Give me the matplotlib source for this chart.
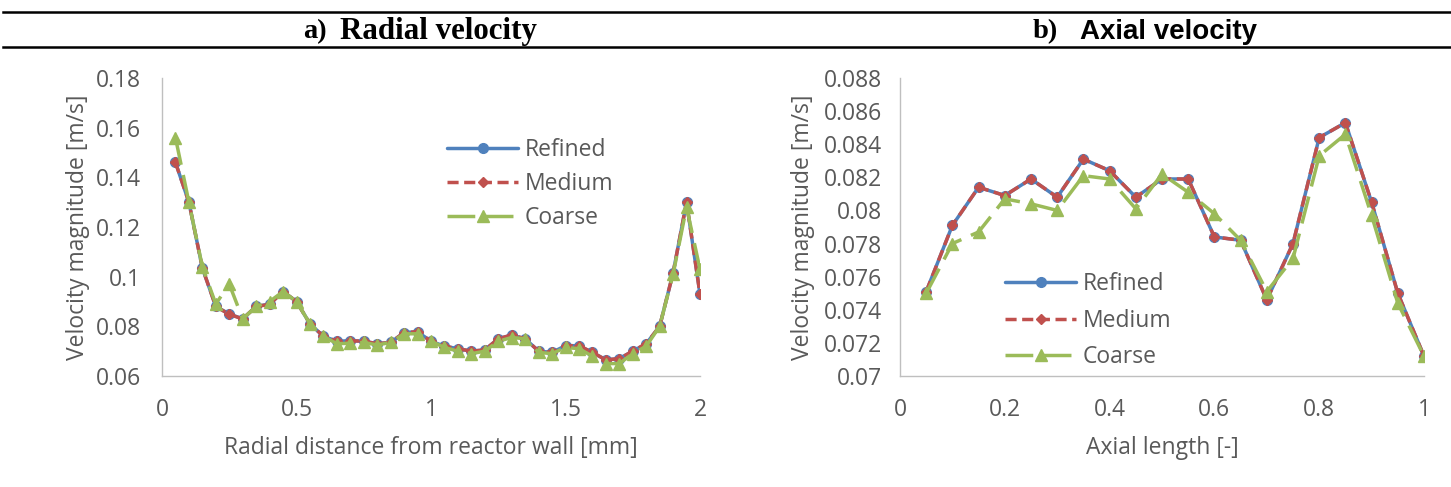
import matplotlib
matplotlib.use("Agg")
import matplotlib.pyplot as plt
from matplotlib.lines import Line2D
import numpy as np

# ---------------- data ----------------
radial_x = [0.05, 0.10, 0.15, 0.20, 0.25, 0.30, 0.35, 0.40, 0.45, 0.50,
            0.55, 0.60, 0.65, 0.70, 0.75, 0.80, 0.85, 0.90, 0.95, 1.00,
            1.05, 1.10, 1.15, 1.20, 1.25, 1.30, 1.35, 1.40, 1.45, 1.50,
            1.55, 1.60, 1.65, 1.70, 1.75, 1.80, 1.85, 1.90, 1.95, 2.00]
radial_refined = [0.1460, 0.1300, 0.1035, 0.0880, 0.0850, 0.0830, 0.0880, 0.0890, 0.0940, 0.0900,
                  0.0810, 0.0760, 0.0740, 0.0742, 0.0740, 0.0730, 0.0735, 0.0775, 0.0778, 0.0740,
                  0.0720, 0.0710, 0.0700, 0.0705, 0.0750, 0.0765, 0.0750, 0.0700, 0.0695, 0.0722,
                  0.0722, 0.0695, 0.0665, 0.0670, 0.0700, 0.0730, 0.0800, 0.1015, 0.1300, 0.0930]
radial_medium = [0.1460, 0.1300, 0.1035, 0.0880, 0.0848, 0.0830, 0.0880, 0.0888, 0.0940, 0.0900,
                 0.0810, 0.0760, 0.0740, 0.0742, 0.0740, 0.0730, 0.0735, 0.0775, 0.0778, 0.0740,
                 0.0720, 0.0710, 0.0700, 0.0705, 0.0750, 0.0765, 0.0750, 0.0700, 0.0695, 0.0722,
                 0.0722, 0.0695, 0.0665, 0.0670, 0.0700, 0.0730, 0.0800, 0.1015, 0.1300, 0.0930]
radial_coarse = [0.1560, 0.1300, 0.1040, 0.0890, 0.0970, 0.0830, 0.0880, 0.0900, 0.0940, 0.0900,
                 0.0810, 0.0760, 0.0730, 0.0732, 0.0735, 0.0725, 0.0735, 0.0770, 0.0770, 0.0740,
                 0.0715, 0.0700, 0.0690, 0.0700, 0.0740, 0.0755, 0.0750, 0.0695, 0.0690, 0.0715,
                 0.0710, 0.0680, 0.0650, 0.0650, 0.0690, 0.0720, 0.0800, 0.1010, 0.1280, 0.1030]

axial_x = [0.05, 0.10, 0.15, 0.20, 0.25, 0.30, 0.35, 0.40, 0.45, 0.50,
           0.55, 0.60, 0.65, 0.70, 0.75, 0.80, 0.85, 0.90, 0.95, 1.00]
axial_refined = [0.0751, 0.0791, 0.0814, 0.0809, 0.0819, 0.0808, 0.0831, 0.0824, 0.0808, 0.0819,
                 0.0819, 0.0784, 0.0782, 0.0746, 0.0780, 0.0844, 0.0853, 0.0805, 0.0750, 0.0712]
axial_medium = [0.0751, 0.0791, 0.0814, 0.0809, 0.0819, 0.0808, 0.0831, 0.0824, 0.0808, 0.0819,
                0.0819, 0.0784, 0.0782, 0.0746, 0.0780, 0.0844, 0.0853, 0.0805, 0.0750, 0.0712]
axial_coarse = [0.0750, 0.0780, 0.0787, 0.0807, 0.0804, 0.0800, 0.0821, 0.0819, 0.0801, 0.0822,
                0.0811, 0.0798, 0.0782, 0.0751, 0.0771, 0.0833, 0.0846, 0.0797, 0.0744, 0.0712]

series_names = ["Refined", "Medium", "Coarse"]

radial_xticks = [0, 0.5, 1, 1.5, 2]
radial_xticklabels = ["0", "0.5", "1", "1.5", "2"]
radial_yticks = [0.06, 0.08, 0.10, 0.12, 0.14, 0.16, 0.18]
radial_yticklabels = ["0.06", "0.08", "0.1", "0.12", "0.14", "0.16", "0.18"]
axial_xticks = [0, 0.2, 0.4, 0.6, 0.8, 1]
axial_xticklabels = ["0", "0.2", "0.4", "0.6", "0.8", "1"]
axial_yticks = [0.070, 0.072, 0.074, 0.076, 0.078, 0.080, 0.082, 0.084, 0.086, 0.088]
axial_yticklabels = ["0.07", "0.072", "0.074", "0.076", "0.078", "0.08", "0.082", "0.084", "0.086", "0.088"]

# ---------------- style ----------------
BLUE = "#4F81BD"
RED = "#C0504D"
GREEN = "#9BBB59"
GRAY_TXT = "#595959"
SPINE = "#BFBFBF"
FONT = ["Open Sans", "DejaVu Sans"]
FS = 16.5

W, H = 1451, 487
fig = plt.figure(figsize=(W / 100, H / 100), dpi=100)


def px_axes(x0, x1, y0, y1):
    return fig.add_axes([x0 / W, 1 - y1 / H, (x1 - x0) / W, (y1 - y0) / H])


def draw(ax, x, r, m, c, xlim, ylim, xticks, xtl, yticks, ytl, xlabel, ylabel, leg_anchor, lsp,
         ylab_x, ytick_pad):
    ax.plot(x, r, color=BLUE, lw=2.5, marker="o", ms=7, mfc=BLUE, mec=BLUE,
            label=series_names[0], solid_capstyle="round")
    ax.plot(x, m, color=RED, lw=2.5, ls=(0, (3.2, 1.6)), marker="D", ms=5.5, mfc=RED, mec=RED,
            label=series_names[1])
    ax.plot(x, c, color=GREEN, lw=2.5, ls=(0, (8, 3)), marker="^", ms=8, mfc=GREEN, mec=GREEN,
            label=series_names[2])
    ax.set_xlim(*xlim)
    ax.set_ylim(*ylim)
    ax.set_xticks(xticks)
    ax.set_xticklabels(xtl)
    ax.set_yticks(yticks)
    ax.set_yticklabels(ytl)
    for s in ["top", "right"]:
        ax.spines[s].set_visible(False)
    for s in ["left", "bottom"]:
        ax.spines[s].set_color(SPINE)
        ax.spines[s].set_linewidth(1.0)
    ax.tick_params(length=0, labelsize=FS, labelcolor=GRAY_TXT)
    ax.tick_params(axis="y", pad=ytick_pad)
    ax.tick_params(axis="x", pad=16)
    for lab in ax.get_xticklabels() + ax.get_yticklabels():
        lab.set_fontfamily(FONT)
    ax.set_xlabel(xlabel, fontsize=FS, color=GRAY_TXT, fontfamily=FONT, labelpad=10)
    ax.set_ylabel(ylabel, fontsize=FS, color=GRAY_TXT, fontfamily=FONT)
    ax.yaxis.set_label_coords(ylab_x, 0.5)
    leg = ax.legend(loc="upper left", bbox_to_anchor=leg_anchor, frameon=False,
                    prop={"family": FONT, "size": FS}, handlelength=3.1,
                    handletextpad=0.3, labelspacing=lsp, borderpad=0, borderaxespad=0,
                    numpoints=1)
    for t in leg.get_texts():
        t.set_color(GRAY_TXT)


ax1 = px_axes(162, 700, 78, 376)
draw(ax1, radial_x, radial_refined, radial_medium, radial_coarse,
     (0, 2), (0.06, 0.18), radial_xticks, radial_xticklabels, radial_yticks, radial_yticklabels,
     "Radial distance from reactor wall [mm]", "Velocity magnitude [m/s]",
     ((447 - 162) / 538, (376 - 138) / 298), 0.44, (90 - 162) / 538, 15)

ax2 = px_axes(900, 1424, 78, 376)
draw(ax2, axial_x, axial_refined, axial_medium, axial_coarse,
     (0, 1), (0.07, 0.088), axial_xticks, axial_xticklabels, axial_yticks, axial_yticklabels,
     "Axial length [-]", "Velocity magnitude [m/s]",
     ((1005 - 900) / 524, (376 - 272) / 298), 0.55, (815 - 900) / 524, 13)

# header lines
for ypx in (12, 47):
    fig.add_artist(Line2D([3 / W, 1.0], [1 - ypx / H, 1 - ypx / H], color="black", lw=1.8,
                          transform=fig.transFigure))

ty = 1 - 32 / H
fig.text(303 / W, ty, "a)", fontfamily="Liberation Serif", fontweight="bold", fontsize=20.5,
         va="center", ha="left")
fig.text(340 / W, ty, "Radial velocity", fontfamily="Liberation Serif", fontweight="bold",
         fontsize=22.3, va="center", ha="left")
fig.text(1033 / W, ty, "b)", fontfamily="Liberation Serif", fontweight="bold", fontsize=20.5,
         va="center", ha="left")
fig.text(1080 / W, ty, "Axial velocity", fontfamily="Liberation Sans", fontweight="bold",
         fontsize=20, va="center", ha="left")

fig.savefig("out.png", dpi=100, facecolor="white")
